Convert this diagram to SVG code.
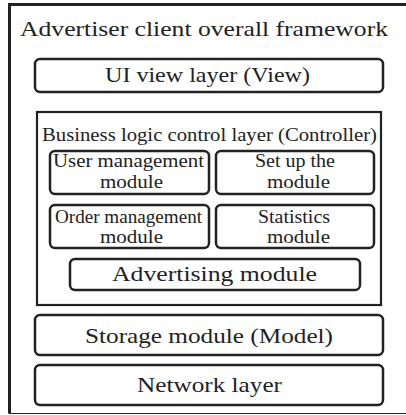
<svg xmlns="http://www.w3.org/2000/svg" width="406" height="415" viewBox="0 0 406 415">
<style>
text{font-family:"Liberation Serif","Times New Roman",serif;fill:#222;}
.box{fill:#fff;stroke:#222;stroke-width:2.5;}
.t20{font-size:21px;}
.t19{font-size:19px;}
.t18{font-size:18px;}
</style>
<rect width="406" height="415" fill="#fff"/>
<g id="frame">
<path d="M9.5 413.5 V4.5 H410" fill="none" stroke="#222" stroke-width="3"/>
<path d="M9 413.5 H410" fill="none" stroke="#222" stroke-width="1.2"/>
<text x="20" y="36" font-size="22" textLength="368" lengthAdjust="spacingAndGlyphs">Advertiser client overall framework</text>
</g>
<g id="view">
<rect class="box" x="35" y="59" width="348" height="33" rx="5"/>
<text class="t20" x="105" y="82" textLength="205" lengthAdjust="spacingAndGlyphs">UI view layer (View)</text>
</g>
<g id="controller">
<rect x="37" y="112" width="344" height="193" fill="none" stroke="#222" stroke-width="2.2"/>
<text class="t19" x="42" y="141" textLength="335" lengthAdjust="spacingAndGlyphs">Business logic control layer (Controller)</text>
</g>
<g id="user">
<rect class="box" x="50" y="151" width="159" height="43" rx="5"/>
<text class="t19" x="53" y="167" textLength="151" lengthAdjust="spacingAndGlyphs">User management</text>
<text class="t19" x="100" y="188" textLength="63" lengthAdjust="spacingAndGlyphs">module</text>
</g>
<g id="setup">
<rect class="box" x="216" y="151" width="158" height="43" rx="5"/>
<text class="t19" x="255" y="167" textLength="80" lengthAdjust="spacingAndGlyphs">Set up the</text>
<text class="t19" x="267" y="188" textLength="63" lengthAdjust="spacingAndGlyphs">module</text>
</g>
<g id="order">
<rect class="box" x="50" y="205" width="159" height="43" rx="5"/>
<text class="t18" x="55" y="223" textLength="147" lengthAdjust="spacingAndGlyphs">Order management</text>
<text class="t18" x="100" y="243" textLength="63" lengthAdjust="spacingAndGlyphs">module</text>
</g>
<g id="statistics">
<rect class="box" x="216" y="205" width="158" height="43" rx="5"/>
<text class="t18" x="258" y="223" textLength="72" lengthAdjust="spacingAndGlyphs">Statistics</text>
<text class="t18" x="267" y="243" textLength="63" lengthAdjust="spacingAndGlyphs">module</text>
</g>
<g id="advertising">
<rect class="box" x="70" y="259" width="290" height="31" rx="5"/>
<text class="t20" x="112" y="281" textLength="205" lengthAdjust="spacingAndGlyphs">Advertising module</text>
</g>
<g id="storage">
<rect class="box" x="35" y="315" width="348" height="40" rx="5"/>
<text class="t20" x="85" y="343" textLength="248" lengthAdjust="spacingAndGlyphs">Storage module (Model)</text>
</g>
<g id="network">
<rect class="box" x="35" y="365" width="348" height="40" rx="5"/>
<text class="t20" x="137" y="392" textLength="145" lengthAdjust="spacingAndGlyphs">Network layer</text>
</g>
<g id="connectors"/>
</svg>
